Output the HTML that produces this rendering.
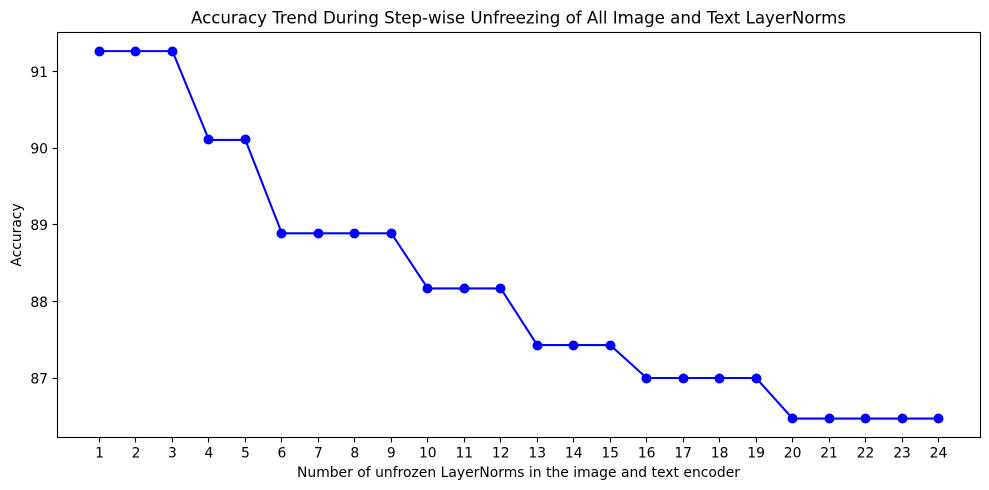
<!DOCTYPE html>
<html>
<head>
<meta charset="utf-8">
<style>
html,body{margin:0;padding:0;background:#fff;width:989px;height:490px;overflow:hidden}
svg{display:block}
text{font-family:"DejaVu Sans",sans-serif;fill:#000}
</style>
</head>
<body>
<svg id="chart" width="989" height="490" viewBox="0 0 989 490" xmlns="http://www.w3.org/2000/svg">
<rect x="57.5" y="32.5" width="923" height="405" fill="#fff"/>
<text x="518.5" y="23.5" text-anchor="middle" font-size="16.67" textLength="655" lengthAdjust="spacing">Accuracy Trend During Step-wise Unfreezing of All Image and Text LayerNorms</text>
<text x="518.5" y="477" text-anchor="middle" font-size="13.89" textLength="443" lengthAdjust="spacing">Number of unfrozen LayerNorms in the image and text encoder</text>
<text x="0" y="0" transform="translate(21 235) rotate(-90)" text-anchor="middle" font-size="13.89">Accuracy</text>
<g id="ticks"></g>
<g id="series"></g>
<rect x="57.5" y="32.5" width="923" height="405" fill="none" stroke="#000" stroke-width="1.1"/>
</svg>
<script>
const categories = [1,2,3,4,5,6,7,8,9,10,11,12,13,14,15,16,17,18,19,20,21,22,23,24];
const accuracy = [91.27,91.27,91.27,90.11,90.11,88.89,88.89,88.89,88.89,88.17,88.17,88.17,87.43,87.43,87.43,87.0,87.0,87.0,87.0,86.47,86.47,86.47,86.47,86.47];
const yTickLabels = [87,88,89,90,91];

const NS = 'http://www.w3.org/2000/svg';
function xScale(v){ return 99.5 + (v - 1) * (938.5 - 99.5) / 23; }
function yScale(v){ return 378 + (87 - v) * 76.55; }
function snap(p){ return Math.floor(p) + 0.5; }
function make(tag, attrs, parent){
  const el = document.createElementNS(NS, tag);
  for (const k in attrs) el.setAttribute(k, attrs[k]);
  parent.appendChild(el);
  return el;
}
const ticks = document.getElementById('ticks');
const series = document.getElementById('series');

categories.forEach(function(c){
  const x = snap(xScale(c));
  const t = make('line', {x1:x, x2:x, y1:437.5, y2:442.4, stroke:'#000', 'stroke-width':1.1}, ticks);
  
  
  const l = make('text', {x:xScale(c), y:457.5, 'text-anchor':'middle', 'font-size':13.89}, ticks);
  
  
  l.textContent = c;
});

yTickLabels.forEach(function(v){
  const y = snap(yScale(v));
  const t = make('line', {x1:52.6, x2:57.5, y1:y, y2:y, stroke:'#000', 'stroke-width':1.1}, ticks);
  
  
  const l = make('text', {x:48, y:yScale(v) + 5.3, 'text-anchor':'end', 'font-size':13.89}, ticks);
  
  
  l.textContent = v;
});

const pts = categories.map(function(c, i){ return xScale(c) + ',' + yScale(accuracy[i]); }).join(' ');
const line = make('polyline', {points:pts, fill:'none', stroke:'#0000ff', 'stroke-width':2.08, 'stroke-linejoin':'round', 'stroke-linecap':'square'}, series);



categories.forEach(function(c, i){
  const p = make('circle', {cx:snap(xScale(c)), cy:snap(yScale(accuracy[i])), r:5, fill:'#0000ff'}, series);
  
  
});
</script>
</body>
</html>
